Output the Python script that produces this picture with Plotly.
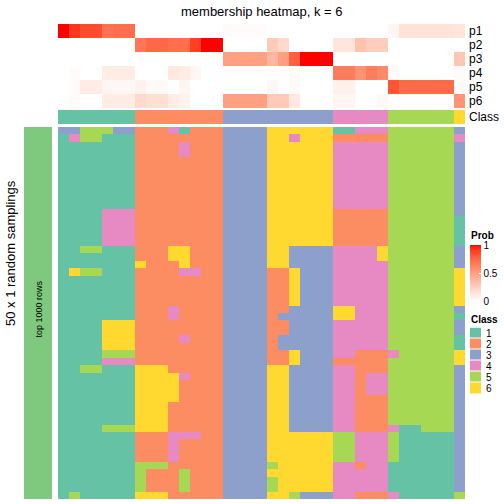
import plotly.graph_objects as go

# ---------------- data ----------------
classes = [1, 2, 3, 4, 5, 6]
class_names = ["1", "2", "3", "4", "5", "6"]
class_colors = ["#66C2A5", "#FC8D62", "#8DA0CB", "#E78AC3", "#A6D854", "#FFD92F"]
prob_labels = ["p1", "p2", "p3", "p4", "p5", "p6"]
column_class = [1]*7 + [2]*8 + [3]*10 + [4]*5 + [5]*6 + [6]

p1 = [1.0, 0.92, 0.85, 0.85, 0.70, 0.72, 0.72, 0, 0, 0, 0, 0, 0, 0, 0,
      0.02, 0.02, 0.02, 0.02, 0, 0, 0, 0, 0, 0, 0, 0, 0, 0, 0,
      0.05, 0.15, 0.15, 0.15, 0.15, 0.15, 0.13]
p2 = [0, 0, 0, 0, 0, 0, 0, 0.68, 0.75, 0.75, 0.72, 0.72, 0.9, 1.0, 1.0,
      0, 0, 0, 0, 0.28, 0.2, 0, 0, 0, 0, 0.13, 0.13, 0.32, 0.26, 0.26,
      0, 0, 0, 0, 0, 0, 0]
p3 = [0, 0, 0, 0, 0, 0, 0, 0, 0, 0, 0, 0, 0, 0, 0,
      0.49, 0.49, 0.49, 0.49, 0.38, 0.5, 0.78, 1.0, 1.0, 1.0, 0, 0, 0, 0, 0,
      0, 0, 0, 0, 0, 0, 0.3]
p4 = [0, 0.02, 0, 0, 0.1, 0.1, 0.1, 0, 0, 0, 0.12, 0.1, 0.04, 0, 0,
      0, 0, 0, 0, 0, 0, 0.02, 0, 0, 0, 0.66, 0.66, 0.56, 0.66, 0.6,
      0.03, 0, 0, 0, 0, 0, 0.02]
p5 = [0, 0.02, 0.1, 0.1, 0.05, 0.04, 0.04, 0.07, 0.03, 0.03, 0, 0.05, 0, 0, 0,
      0, 0, 0, 0, 0.04, 0, 0.02, 0, 0, 0, 0.08, 0.08, 0, 0, 0,
      0.82, 0.74, 0.74, 0.74, 0.74, 0.74, 0.02]
p6 = [0, 0.02, 0, 0, 0.1, 0.1, 0.1, 0.2, 0.17, 0.17, 0.1, 0.07, 0, 0, 0,
      0.49, 0.49, 0.49, 0.49, 0.28, 0.28, 0.12, 0, 0, 0, 0.05, 0.05, 0, 0, 0.03,
      0, 0, 0, 0, 0, 0, 0.55]

membership_rows = [
    "3355533 22241222 3333 666666 11444 555555 3",
    "1455111 22222222 3333 664666 22222 555555 4",
    "1111111 22224222 3333 666666 44444 555555 3",
    "1111111 22224222 3333 666666 44444 555555 3",
    "1111111 22222222 3333 666666 44444 555555 3",
    "1111111 22222222 3333 666666 44444 555555 3",
    "1111111 22222222 3333 666666 44444 555555 3",
    "1111111 22222222 3333 666666 44444 555555 3",
    "1111111 22222222 3333 666666 44444 555555 3",
    "1111111 22222222 3333 666666 44444 555555 3",
    "1111111 22222222 3333 666666 44444 555555 3",
    "1111444 22222222 3333 666666 22222 555555 3",
    "1111444 22222222 3333 666666 22222 555555 1",
    "1111444 22222222 3333 666666 22222 555555 1",
    "1111444 22222222 3333 666666 22222 555555 1",
    "1111444 22222222 3333 666666 22222 555555 1",
    "1155111 22266222 3333 663333 44446 555555 3",
    "1111111 22266222 3333 663333 44446 555555 3",
    "1111111 62226222 3333 663333 44444 555555 3",
    "1655111 22224422 3333 226333 44444 555555 6",
    "1111111 22222222 3333 226333 44444 555555 6",
    "1111111 22222222 3333 226333 44444 555555 6",
    "1111111 22222222 3333 226333 44444 555555 6",
    "1111111 22222222 3333 226333 44444 555555 6",
    "1111111 22242222 3333 223333 66444 555555 3",
    "1111111 22242222 3333 233333 66444 555555 1",
    "1111666 22222222 3333 223333 44444 555555 3",
    "1111666 22222222 3333 223333 44444 555555 3",
    "1111666 22224222 3333 233333 44444 555555 1",
    "1111666 22222222 3333 233333 44444 555555 1",
    "1111555 22222222 3333 226333 44222 455555 6",
    "1111444 22222222 3333 226333 22222 555555 6",
    "1155111 66622222 3333 663333 44222 555555 3",
    "1111111 66664222 3333 663333 44244 555555 3",
    "1111111 66662222 3333 663333 44244 555555 3",
    "1111111 66662222 3333 663333 44244 555555 3",
    "1111111 66662222 3333 663333 44222 555555 3",
    "1111111 66622222 3333 663333 44222 555555 3",
    "1111111 66622222 3333 663333 44222 555555 3",
    "1111111 66622222 3333 663333 44222 555555 3",
    "1111555 66622222 3333 663333 44222 411555 3",
    "1111111 22244422 3333 666666 55444 511111 3",
    "1111111 22242222 3333 666666 55444 511111 3",
    "1111111 22242222 3333 666666 55444 511111 3",
    "1111111 22242222 3333 666666 55444 511111 3",
    "1111111 55522222 3333 566666 44244 111111 3",
    "1111111 52225222 3333 666666 44444 111111 3",
    "1111111 52225222 3333 566666 44444 111111 3",
    "1111111 52225222 3333 566666 44444 111111 3",
    "1511111 66622222 3333 665333 44222 411111 5",
]
row_group = ["top 1000 rows"] * 50

# ---------------- styling helpers ----------------
W = H = 504
FONT = "Liberation Sans, Arial, Helvetica, sans-serif"


def px_x(p):
    return p / W


def px_y(p):
    return 1 - p / H


def _lin(c):
    c = c / 255
    return c / 12.92 if c <= 0.04045 else ((c + 0.055) / 1.055) ** 2.4


def _gam(c):
    c = max(0.0, min(1.0, c))
    v = 12.92 * c if c <= 0.0031308 else 1.055 * c ** (1 / 2.4) - 0.055
    return int(round(v * 255))


def rgb_to_lab(rgb):
    r, g, b = [_lin(v) for v in rgb]
    X = 0.4124 * r + 0.3576 * g + 0.1805 * b
    Y = 0.2126 * r + 0.7152 * g + 0.0722 * b
    Z = 0.0193 * r + 0.1192 * g + 0.9505 * b
    f = lambda t: t ** (1 / 3) if t > 0.008856 else 7.787 * t + 16 / 116
    fx, fy, fz = f(X / 0.95047), f(Y), f(Z / 1.08883)
    return (116 * fy - 16, 500 * (fx - fy), 200 * (fy - fz))


def lab_to_rgb(lab):
    L, a, b = lab
    fy = (L + 16) / 116
    fx = fy + a / 500
    fz = fy - b / 200
    finv = lambda t: t ** 3 if t ** 3 > 0.008856 else (t - 16 / 116) / 7.787
    X, Y, Z = 0.95047 * finv(fx), finv(fy), 1.08883 * finv(fz)
    r = 3.2406 * X - 1.5372 * Y - 0.4986 * Z
    g = -0.9689 * X + 1.8758 * Y + 0.0415 * Z
    bb = 0.0557 * X - 0.2040 * Y + 1.0570 * Z
    return "rgb(%d,%d,%d)" % (_gam(r), _gam(g), _gam(bb))


lw, lr = rgb_to_lab((255, 255, 255)), rgb_to_lab((255, 0, 0))
prob_scale = []
for i in range(21):
    t = i / 20
    prob_scale.append([t, lab_to_rgb(tuple(lw[k] + (lr[k] - lw[k]) * t for k in range(3)))])

n = len(classes)
class_scale = []
for i, c in enumerate(class_colors):
    class_scale.append([i / n, c])
    class_scale.append([(i + 1) / n, c])

membership = [[int(ch) for ch in s.replace(" ", "")] for s in membership_rows]
prob_matrix = [p1, p2, p3, p4, p5, p6]
ncol = len(column_class)
nrow = len(membership)
cols = list(range(ncol))

fig = go.Figure()

# probability annotation
fig.add_trace(go.Heatmap(
    z=prob_matrix, x=cols, y=list(range(len(prob_labels))),
    xaxis="x", yaxis="y", zmin=0, zmax=1, colorscale=prob_scale,
    hoverinfo="skip",
    colorbar=dict(x=px_x(470), xanchor="left", xpad=0, ypad=0,
                  y=px_y(273), yanchor="middle", lenmode="pixels", len=56,
                  thickness=11, outlinewidth=0,
                  tickvals=[0, 0.5, 1], ticktext=["0", "0.5", "1"],
                  ticks="inside", ticklen=2, tickcolor="white",
                  tickfont=dict(size=10, color="black", family=FONT)),
))

# class annotation row
fig.add_trace(go.Heatmap(
    z=[column_class], x=cols, y=[0], xaxis="x", yaxis="y2",
    zmin=0.5, zmax=n + 0.5, colorscale=class_scale, showscale=False, hoverinfo="skip"))

# main membership heatmap
fig.add_trace(go.Heatmap(
    z=membership, x=cols, y=list(range(nrow)), xaxis="x", yaxis="y3",
    zmin=0.5, zmax=n + 0.5, colorscale=class_scale, showscale=False, hoverinfo="skip"))

# row group bar
fig.add_trace(go.Heatmap(
    z=[[1] for _ in row_group], x=[0], y=list(range(nrow)), xaxis="x2", yaxis="y3",
    zmin=0, zmax=1, colorscale=[[0, "#7FC97F"], [1, "#7FC97F"]],
    showscale=False, hoverinfo="skip"))

# class legend swatches
fig.add_trace(go.Heatmap(
    z=[[c] for c in classes], x=[0], y=classes, xaxis="x3", yaxis="y4",
    zmin=0.5, zmax=n + 0.5, colorscale=class_scale, showscale=False,
    ygap=1, hoverinfo="skip"))

hidden = dict(visible=False, showgrid=False, zeroline=False, fixedrange=True)
fig.update_layout(
    width=W, height=H, margin=dict(l=0, r=0, t=0, b=0),
    paper_bgcolor="white", plot_bgcolor="white",
    font=dict(family=FONT, color="black"),
    xaxis=dict(domain=[px_x(58), px_x(465)], range=[-0.5, ncol - 0.5], anchor="y3", **hidden),
    yaxis=dict(domain=[px_y(108), px_y(24)], range=[5.5, -0.5], anchor="x", **hidden),
    yaxis2=dict(domain=[px_y(124), px_y(110)], range=[0.5, -0.5], anchor="x", **hidden),
    yaxis3=dict(domain=[px_y(499), px_y(127)], range=[nrow - 0.5, -0.5], anchor="x", **hidden),
    xaxis2=dict(domain=[px_x(24), px_x(52)], range=[-0.5, 0.5], anchor="y3", **hidden),
    xaxis3=dict(domain=[px_x(470), px_x(503)], range=[-0.5, 2.5], anchor="y4", **hidden),
    yaxis4=dict(domain=[px_y(394), px_y(327.5)], range=[n + 0.5, 0.5], anchor="x3", **hidden),
    showlegend=False,
)

ann = []
ann.append(dict(text="membership heatmap, k = 6", x=px_x(261.5), y=px_y(11),
                xanchor="center", yanchor="middle", font=dict(size=13)))
for i, lab in enumerate(prob_labels):
    ann.append(dict(text=lab, x=px_x(467), y=px_y(31 + 14 * i), xanchor="left",
                    yanchor="middle", font=dict(size=12)))
ann.append(dict(text="Class", x=px_x(467), y=px_y(117), xanchor="left",
                yanchor="middle", font=dict(size=12)))
ann.append(dict(text="50 x 1 random samplings", x=px_x(10), y=px_y(253), textangle=-90,
                xanchor="center", yanchor="middle", font=dict(size=13)))
ann.append(dict(text=row_group[0], x=px_x(38.5), y=px_y(309), textangle=-90,
                xanchor="center", yanchor="middle", font=dict(size=9)))
ann.append(dict(text="<b>Prob</b>", x=px_x(469), y=px_y(235), xanchor="left",
                yanchor="middle", font=dict(size=10)))
ann.append(dict(text="<b>Class</b>", x=px_x(469), y=px_y(319), xanchor="left",
                yanchor="middle", font=dict(size=10)))
for c, name in zip(classes, class_names):
    ann.append(dict(text=name, x=0.75, y=c, xref="x3", yref="y4", xanchor="left",
                    yanchor="middle", font=dict(size=10), showarrow=False))
for a in ann:
    a.setdefault("xref", "paper")
    a.setdefault("yref", "paper")
    a["showarrow"] = False
fig.update_layout(annotations=ann)

fig.write_html(
    "out.html",
    config={"displayModeBar": False},
    post_script="document.body.style.margin='0';document.body.style.overflow='hidden';",
)
